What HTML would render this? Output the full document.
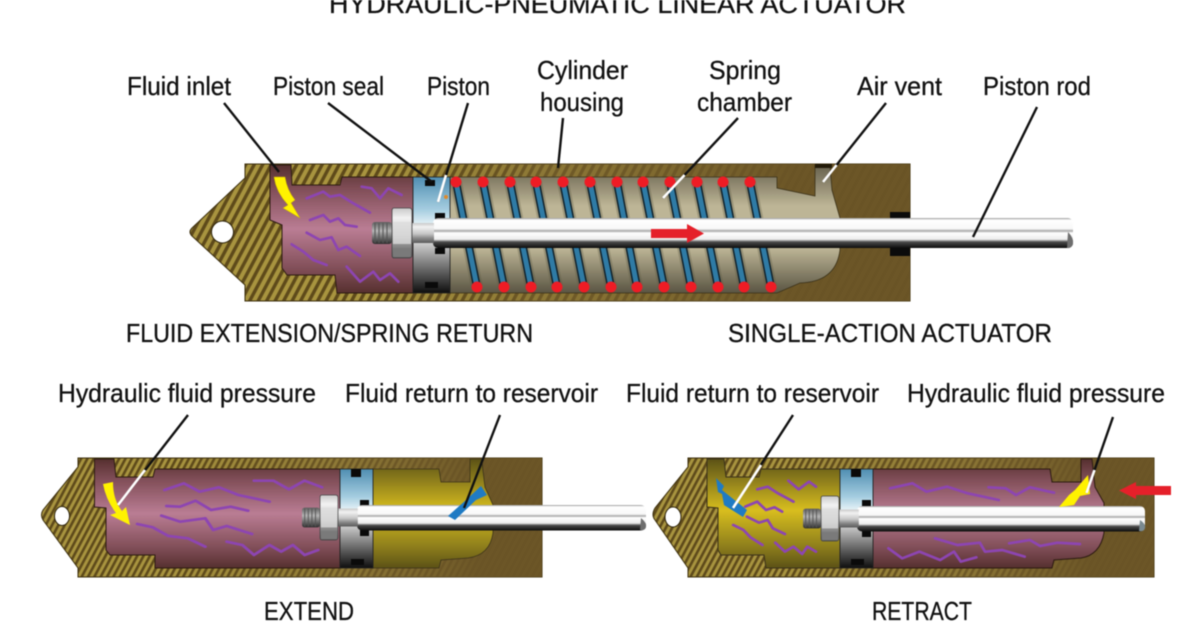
<!DOCTYPE html>
<html>
<head>
<meta charset="utf-8">
<style>
html,body{margin:0;padding:0;background:#fff;width:1200px;height:630px;overflow:hidden}
svg{display:block;filter:blur(.5px)}
text{font-family:"Liberation Sans",sans-serif;font-size:26px;fill:#111;stroke:#111;stroke-width:.3}
.sq{fill:none;stroke:#8d45b2;stroke-width:8;stroke-linejoin:round;stroke-linecap:round}
.bk{stroke:#111;stroke-width:2.4;fill:none}
.wh{stroke:#fff;stroke-width:2.6;fill:none}
</style>
</head>
<body>
<svg width="1200" height="630" viewBox="0 0 1200 630" xmlns="http://www.w3.org/2000/svg">
<defs>
<pattern id="ht" width="7.5" height="7.5" patternUnits="userSpaceOnUse" patternTransform="rotate(28)">
<rect width="7.500" height="7.500" fill="#a8943f"/><rect width="3.400" height="7.500" fill="#5e4a1a"/>
</pattern>
<pattern id="hb" width="5.6" height="5.6" patternUnits="userSpaceOnUse" patternTransform="rotate(28)">
<rect width="5.600" height="5.600" fill="#a8943f"/><rect width="2.600" height="5.600" fill="#5e4a1a"/>
</pattern>
<linearGradient id="fadeT" x1="245" x2="910" y1="0" y2="0" gradientUnits="userSpaceOnUse">
<stop offset=".2" stop-color="#6a5426" stop-opacity="0"/><stop offset=".45" stop-color="#7a6430" stop-opacity=".6"/><stop offset=".82" stop-color="#6a5426" stop-opacity=".96"/>
</linearGradient>
<linearGradient id="fadeL" x1="78" x2="542" y1="0" y2="0" gradientUnits="userSpaceOnUse">
<stop offset=".2" stop-color="#6a5426" stop-opacity="0"/><stop offset=".55" stop-color="#7a6430" stop-opacity=".55"/><stop offset=".86" stop-color="#6a5426" stop-opacity=".96"/>
</linearGradient>
<linearGradient id="fadeR" x1="688" x2="1154" y1="0" y2="0" gradientUnits="userSpaceOnUse">
<stop offset=".2" stop-color="#6a5426" stop-opacity="0"/><stop offset=".55" stop-color="#7a6430" stop-opacity=".55"/><stop offset=".86" stop-color="#6a5426" stop-opacity=".96"/>
</linearGradient>
<linearGradient id="pink" x1="0" x2="0" y1="0" y2="1">
<stop offset="0" stop-color="#56302f"/><stop offset=".2" stop-color="#83505a"/><stop offset=".5" stop-color="#ba7d94"/><stop offset=".8" stop-color="#83505a"/><stop offset="1" stop-color="#56302f"/>
</linearGradient>
<linearGradient id="yel" x1="0" x2="0" y1="0" y2="1">
<stop offset="0" stop-color="#5c5216"/><stop offset=".2" stop-color="#8f7f1c"/><stop offset=".47" stop-color="#d8be1e"/><stop offset=".8" stop-color="#8f7f1c"/><stop offset="1" stop-color="#5c5216"/>
</linearGradient>
<linearGradient id="gas" x1="0" x2="0" y1="0" y2="1">
<stop offset="0" stop-color="#66604d"/><stop offset=".32" stop-color="#bdb596"/><stop offset=".65" stop-color="#bdb596"/><stop offset="1" stop-color="#5a5543"/>
</linearGradient>
<linearGradient id="pis" x1="0" x2="0" y1="0" y2="1">
<stop offset="0" stop-color="#4f8eb2"/><stop offset=".28" stop-color="#a5cde0"/><stop offset=".44" stop-color="#f4fafc"/><stop offset=".55" stop-color="#d8d8d8"/><stop offset=".78" stop-color="#6f6f6f"/><stop offset="1" stop-color="#0e0e0e"/>
</linearGradient>
<linearGradient id="rod" x1="0" x2="0" y1="0" y2="1">
<stop offset="0" stop-color="#999"/><stop offset=".07" stop-color="#fff"/><stop offset=".36" stop-color="#f8f8f8"/><stop offset=".43" stop-color="#a6a6a6"/><stop offset=".5" stop-color="#fff"/><stop offset=".71" stop-color="#ececec"/><stop offset=".8" stop-color="#4a4a4a"/><stop offset="1" stop-color="#0c0c0c"/>
</linearGradient>
<linearGradient id="steel" x1="0" x2="0" y1="0" y2="1">
<stop offset="0" stop-color="#c9c9c9"/><stop offset=".2" stop-color="#f2f2f2"/><stop offset=".55" stop-color="#c4c4c4"/><stop offset=".75" stop-color="#8b8b8b"/><stop offset="1" stop-color="#5a5a5a"/>
</linearGradient>
<linearGradient id="stud" x1="0" x2="0" y1="0" y2="1">
<stop offset="0" stop-color="#5e5e5e"/><stop offset=".4" stop-color="#b5b5b5"/><stop offset="1" stop-color="#2c2c2c"/>
</linearGradient>
<g id="bolt">
<rect x="-20" y="-11" width="20" height="22" rx="3" fill="url(#stud)"/>
<path d="M-17 -10v20M-13 -10v20M-9 -10v20M-5 -10v20" stroke="#555" stroke-width="1"/>
<rect x="20" y="-10" width="22" height="20" fill="url(#steel)"/>
<path d="M2 -25h15q3 0 3 3v44q0 3-3 3H2q-2 0-2-3v-44q0-3 2-3z" fill="url(#steel)" stroke="#444" stroke-width=".8"/>
<rect x="1" y="-11" width="18" height="22" fill="#dcdcdc" opacity=".75"/>
<rect x="1" y="15" width="18" height="9" fill="#7a7a7a"/>
</g>
</defs>

<!-- ================= TOP ACTUATOR ================= -->
<path d="M245 164H910V301H245V285L192 236Q188 232 192 228L245 178Z" fill="url(#ht)" stroke="#3b2e0c" stroke-width="1"/>
<path d="M245 164H910V301H245V285L192 236Q188 232 192 228L245 178Z" fill="url(#fadeT)"/>
<circle cx="222.500" cy="232" r="11" fill="#fff" stroke="#2c2208" stroke-width="1"/>
<path d="M270 165H291L292 185H340L342 177H413V293H337L335 275H287L282 268V225L270 220Z" fill="url(#pink)" stroke="#2d1b12" stroke-width="1"/>
<path d="M450 177H777V188L815 196V165H830L832 190L840 218V250Q836 282 800 283L777 293H450Z" fill="url(#gas)" stroke="#3b321a" stroke-width=".8"/>
<path d="M815 164h17v4h-17z" fill="#221a08"/>
<g fill="none" opacity=".3" stroke="#5a5540" stroke-width="12">
<path d="M456 182L477 287M483 182L504 287M510 182L531 287M536 182L557 287M563 182L584 287M590 182L611 287M617 182L637 287M643 182L664 287M670 182L691 287M697 182L718 287M723 182L744 287M750 182L771 287"/>
</g>
<g stroke="#10222c" stroke-width="8" fill="none">
<path d="M456 182L477 287M483 182L504 287M510 182L531 287M536 182L557 287M563 182L584 287M590 182L611 287M617 182L637 287M643 182L664 287M670 182L691 287M697 182L718 287M723 182L744 287M750 182L771 287"/>
</g>
<g stroke="#2f7ba5" stroke-width="5" fill="none">
<path d="M456 182L477 287M483 182L504 287M510 182L531 287M536 182L557 287M563 182L584 287M590 182L611 287M617 182L637 287M643 182L664 287M670 182L691 287M697 182L718 287M723 182L744 287M750 182L771 287"/>
</g>
<g fill="#ee1c25">
<circle cx="456" cy="182" r="5.500"/><circle cx="483" cy="182" r="5.500"/><circle cx="510" cy="182" r="5.500"/><circle cx="536" cy="182" r="5.500"/><circle cx="563" cy="182" r="5.500"/><circle cx="590" cy="182" r="5.500"/><circle cx="617" cy="182" r="5.500"/><circle cx="643" cy="182" r="5.500"/><circle cx="670" cy="182" r="5.500"/><circle cx="697" cy="182" r="5.500"/><circle cx="723" cy="182" r="5.500"/><circle cx="750" cy="182" r="5.500"/>
<circle cx="477" cy="287" r="5.500"/><circle cx="504" cy="287" r="5.500"/><circle cx="531" cy="287" r="5.500"/><circle cx="557" cy="287" r="5.500"/><circle cx="584" cy="287" r="5.500"/><circle cx="611" cy="287" r="5.500"/><circle cx="637" cy="287" r="5.500"/><circle cx="664" cy="287" r="5.500"/><circle cx="691" cy="287" r="5.500"/><circle cx="718" cy="287" r="5.500"/><circle cx="744" cy="287" r="5.500"/><circle cx="771" cy="287" r="5.500"/>
</g>
<rect x="413" y="177" width="37" height="116" fill="url(#pis)" stroke="#222" stroke-width=".8"/>
<path d="M425 180h10v6h-10zM435 213h10v6h-10zM435 248h10v6h-10zM425 282h13v6h-13z" fill="#0a0a0a"/>
<circle cx="446" cy="197" r="2" fill="#e08a2c"/>
<rect x="890" y="212" width="20" height="8" fill="#0b0b0b"/>
<rect x="890" y="248" width="20" height="8" fill="#0b0b0b"/>
<g transform="translate(180 150) scale(.3333)">
<path class="sq" d="M380 145L430 125L450 140L480 135L520 160L570 188"/>
<path class="sq" d="M545 110L575 115L600 145L625 115L665 135"/>
<path class="sq" d="M390 210L430 195L450 215L475 205L495 225L530 230"/>
<path class="sq" d="M380 248L420 270L455 262L475 300L500 290L540 318"/>
<path class="sq" d="M335 283L370 305L400 330L440 345"/>
<path class="sq" d="M500 350L540 395L580 365L600 390L630 370L655 395"/>
</g>
<rect x="433" y="218" width="640" height="30" rx="5" fill="url(#rod)"/>
<path d="M1068 232q6 6 5 12q-2 5-6 4z" fill="#6e6e6e"/>
<use href="#bolt" transform="translate(392 233)"/>
<path d="M274 177L285 177Q287 190 295 200L291 203L300 218L283 208L288 205Q276 192 274 177Z" fill="#fff200" stroke="#c9b000" stroke-width=".5"/>
<path d="M651 229H687V224L704 233.500L687 243V238H651Z" fill="#e5202a"/>

<!-- ================= LOWER LEFT ================= -->
<path d="M78 458H542V577H78V568L43 520Q40 515 43 510L78 467Z" fill="url(#hb)" stroke="#3b2e0c" stroke-width="1"/>
<path d="M78 458H542V577H78V568L43 520Q40 515 43 510L78 467Z" fill="url(#fadeL)"/>
<ellipse cx="62" cy="516" rx="7.500" ry="9.500" fill="#fff" stroke="#2c2208"/>
<path d="M94.500 459H114L116 477H153L155 469H340V568H155V555H110L106 550V508L94.500 507Z" fill="url(#pink)" stroke="#2d1b12"/>
<path d="M373 469H439L441 482H470V459H481.600L485 487L493 505V533Q490 555 468 558L441 560L439 568H373Z" fill="url(#yel)" stroke="#3b321a" stroke-width=".8"/>
<rect x="340" y="469" width="33" height="99" fill="url(#pis)" stroke="#222" stroke-width=".8"/>
<path d="M351 469h10v8h-10zM360 500h9v6h-9zM360 530h9v6h-9zM351 559h13v6h-13z" fill="#0a0a0a"/>
<g transform="translate(40 450) scale(.389 .3333)">
<path class="sq" d="M320 120L370 100L410 125L460 112L510 135L590 155"/>
<path class="sq" d="M550 92L600 92L640 118L680 92L725 112"/>
<path class="sq" d="M325 168L360 170L400 152L440 180L490 170L535 182"/>
<path class="sq" d="M312 197L360 215L425 205L445 240L480 228L545 252"/>
<path class="sq" d="M250 222L290 232L330 258L380 265L425 290"/>
<path class="sq" d="M480 275L520 285L550 315L590 285L620 305L650 285L680 315L715 300"/>
</g>
<rect x="357" y="505" width="289" height="25.500" rx="5" fill="url(#rod)"/>
<path d="M641 518q6 5 5 9q-1 4-6 3z" fill="#6e6e6e"/>
<use href="#bolt" transform="translate(320 517.500) scale(.9)"/>
<path d="M103 484L113 482Q113 500 122 511L126 507L130 525L110 515L116 513Q106 500 103 484Z" fill="#fff200"/>
<path d="M481 486L487 495L476 500L455 520L448 516L466 500Z" fill="#1f7bc4"/>

<!-- ================= LOWER RIGHT ================= -->
<path d="M688 458H1154V577H688V568L655 520Q651 515 655 508L688 467Z" fill="url(#hb)" stroke="#3b2e0c" stroke-width="1"/>
<path d="M688 458H1154V577H688V568L655 520Q651 515 655 508L688 467Z" fill="url(#fadeR)"/>
<ellipse cx="673" cy="517" rx="8" ry="10" fill="#fff" stroke="#2c2208"/>
<path d="M707 459H724L726 477H759L761 469H840V568H766L764 555H721L718 550V508L707 507Z" fill="url(#yel)" stroke="#3b321a"/>
<path d="M873 469H1050L1052 482H1081V459H1092L1095 487L1104 503V533Q1100 555 1081 558L1054 560L1052 568H873Z" fill="url(#pink)" stroke="#2d1b12"/>
<rect x="840" y="469" width="33" height="99" fill="url(#pis)" stroke="#222" stroke-width=".8"/>
<path d="M851 469h10v8h-10zM862 500h9v6h-9zM862 531h9v6h-9zM851 559h13v6h-13z" fill="#0a0a0a"/>
<g transform="translate(640 450) scale(.345 .3333)">
<path class="sq" d="M430 92L460 118L490 95L510 110"/>
<path class="sq" d="M340 118L370 110L400 130L445 155"/>
<path class="sq" d="M305 170L340 155L365 180L390 172L412 185"/>
<path class="sq" d="M310 200L345 218L370 210L385 235L420 252"/>
<path class="sq" d="M270 225L300 240L320 262L355 285"/>
<path class="sq" d="M392 278L420 305L445 290L470 312L485 290L510 305"/>
<path class="sq" d="M725 115L790 100L830 125L890 110L950 130L1040 150"/>
<path class="sq" d="M1010 112L1060 115L1090 135L1130 112L1200 128"/>
<path class="sq" d="M855 265L920 285L985 278L1000 305L1050 300L1115 320"/>
<path class="sq" d="M1070 280L1130 270L1160 288L1210 278L1275 282"/>
<path class="sq" d="M720 295L760 325L810 305L870 330L910 305L930 335L975 322"/>
</g>
<rect x="857" y="506" width="288" height="25.500" rx="5" fill="url(#rod)"/>
<path d="M1140 520q6 4 5 8q-1 4-6 3z" fill="#7a8a90"/>
<use href="#bolt" transform="translate(821 518.500) scale(.9)"/>
<path d="M716 478L724 486L722 490L747 510L743 517L724 505L722 494L718 492Z" fill="#1f7bc4"/>
<path d="M1088 475L1090 494L1080 496L1074 505L1059 507L1069 495L1075 490Z" fill="#fff200"/>
<path d="M1119 490.500L1136 482V486H1171V495H1136V499Z" fill="#e5202a"/>

<!-- ================= LEADERS ================= -->
<path class="bk" d="M224 103L279 172"/>
<path class="bk" d="M328 103L432 182"/>
<path class="bk" d="M468 103L438 202"/>
<path class="bk" d="M563 118L558 168"/>
<path class="bk" d="M738 118L663 198"/>
<path class="bk" d="M886 103L823 182"/>
<path class="bk" d="M1037 107L973 237"/>
<path class="bk" d="M188 415L118 505"/>
<path class="bk" d="M500 415L464 508"/>
<path class="bk" d="M793 415L733 508"/>
<path class="bk" d="M1113 417L1086.500 493"/>
<path class="wh" d="M446 175L438 202"/>
<path class="wh" d="M684.600 175L663 198"/>
<path class="wh" d="M836.600 165L823 182"/>
<path class="wh" d="M145 470L118 505"/>
<path class="wh" d="M761 465L733 508"/>
<path class="wh" d="M1094.500 470L1086.500 493"/>

<!-- ================= TEXT ================= -->
<text x="329" y="13" textLength="577" lengthAdjust="spacingAndGlyphs">HYDRAULIC-PNEUMATIC LINEAR ACTUATOR</text>
<text x="127" y="95" textLength="104" lengthAdjust="spacingAndGlyphs">Fluid inlet</text>
<text x="273" y="95" textLength="111" lengthAdjust="spacingAndGlyphs">Piston seal</text>
<text x="427" y="95" textLength="63" lengthAdjust="spacingAndGlyphs">Piston</text>
<text x="537" y="79" textLength="91" lengthAdjust="spacingAndGlyphs">Cylinder</text>
<text x="540" y="111" textLength="84" lengthAdjust="spacingAndGlyphs">housing</text>
<text x="709" y="79" textLength="72" lengthAdjust="spacingAndGlyphs">Spring</text>
<text x="697" y="111" textLength="95" lengthAdjust="spacingAndGlyphs">chamber</text>
<text x="857" y="95" textLength="85" lengthAdjust="spacingAndGlyphs">Air vent</text>
<text x="983" y="95" textLength="108" lengthAdjust="spacingAndGlyphs">Piston rod</text>
<text x="126" y="342" textLength="407" lengthAdjust="spacingAndGlyphs">FLUID EXTENSION/SPRING RETURN</text>
<text x="728" y="342" textLength="324" lengthAdjust="spacingAndGlyphs">SINGLE-ACTION ACTUATOR</text>
<text x="58" y="402" textLength="258" lengthAdjust="spacingAndGlyphs">Hydraulic fluid pressure</text>
<text x="345" y="402" textLength="253" lengthAdjust="spacingAndGlyphs">Fluid return to reservoir</text>
<text x="626" y="402" textLength="253" lengthAdjust="spacingAndGlyphs">Fluid return to reservoir</text>
<text x="907" y="402" textLength="258" lengthAdjust="spacingAndGlyphs">Hydraulic fluid pressure</text>
<text x="264" y="620" textLength="90" lengthAdjust="spacingAndGlyphs">EXTEND</text>
<text x="872" y="620" textLength="100" lengthAdjust="spacingAndGlyphs">RETRACT</text>
</svg>
</body>
</html>
